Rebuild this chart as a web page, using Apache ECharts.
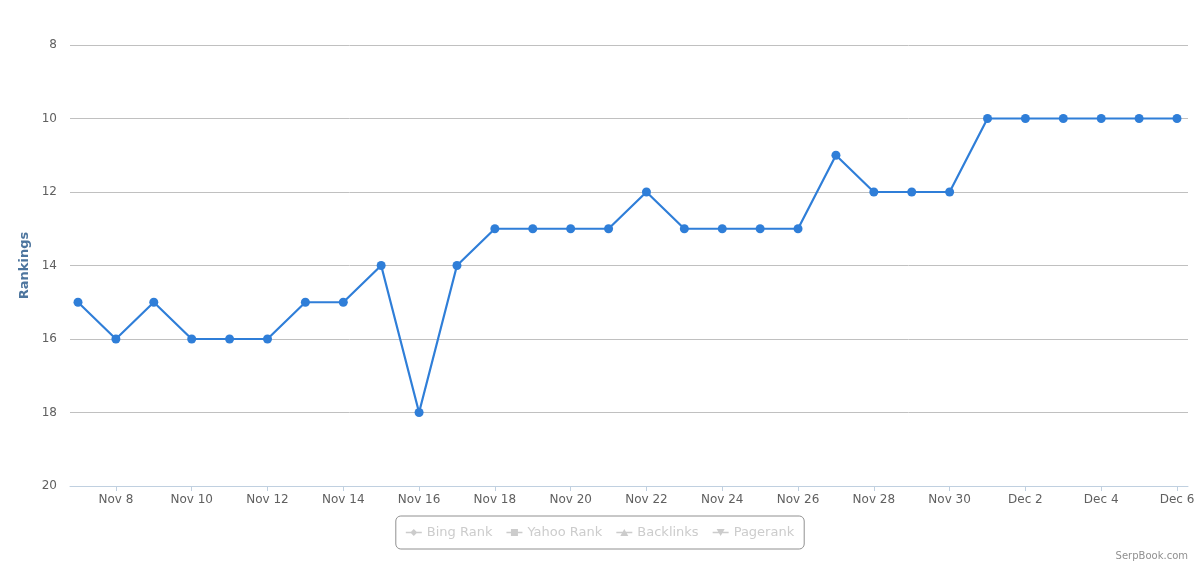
<!DOCTYPE html>
<html>
<head>
<meta charset="utf-8">
<script src="https://cdn.jsdelivr.net/npm/echarts@6/dist/echarts.min.js"></script>
<style>html,body{margin:0;padding:0;background:#fff}#c{width:1200px;height:566px}</style>
</head>
<body>
<div id="c"></div>
<script>
const categories = ["Nov 7","Nov 8","Nov 9","Nov 10","Nov 11","Nov 12","Nov 13","Nov 14","Nov 15","Nov 16","Nov 17","Nov 18","Nov 19","Nov 20","Nov 21","Nov 22","Nov 23","Nov 24","Nov 25","Nov 26","Nov 27","Nov 28","Nov 29","Nov 30","Dec 1","Dec 2","Dec 3","Dec 4","Dec 5","Dec 6"];
const googleRank = [15,16,15,16,16,16,15,15,14,18,14,13,13,13,13,12,13,13,13,13,11,12,12,12,10,10,10,10,10,10];
const legendNames = ["Bing Rank","Yahoo Rank","Backlinks","Pagerank"];
const yTicks = {min: 8, max: 20, interval: 2};

const FONT = "DejaVu Sans";
const icons = {
  "Bing Rank": "path://M0,3.2h16v1.6h-16z M8,0.5L11.5,4L8,7.5L4.5,4z",
  "Yahoo Rank": "path://M0,3.2h16v1.6h-16z M4.5,0.5h7v7h-7z",
  "Backlinks": "path://M0,3.2h16v1.6h-16z M8,0.5L12,7.5L4,7.5z",
  "Pagerank": "path://M0,3.2h16v1.6h-16z M4,0.5L12,0.5L8,7.5z"
};
const selected = {};
legendNames.forEach(n => selected[n] = false);

const chart = echarts.init(document.getElementById('c'));
chart.setOption({
  animation: false,
  textStyle: {fontFamily: FONT},
  grid: [
    {left: 70, right: 12, top: 45, bottom: 80},
    {left: 78, right: 23, top: 45, bottom: 80}
  ],
  xAxis: [
    {gridIndex: 0, type: 'value', min: 0, max: 1, show: true,
     axisLine: {show: true, onZero: false, lineStyle: {color: '#C0D0E0', width: 1}},
     axisTick: {show: false}, axisLabel: {show: false}, splitLine: {show: false}},
    {gridIndex: 1, type: 'category', data: categories, boundaryGap: false,
     axisLine: {show: false},
     axisTick: {show: true, length: 5, interval: (i) => i % 2 === 1, lineStyle: {color: '#C0D0E0'}},
     axisLabel: {interval: (i) => i % 2 === 1, color: '#606060', fontSize: 12, margin: 8, fontFamily: FONT},
     splitLine: {show: false}}
  ],
  yAxis: [
    {gridIndex: 0, type: 'value', inverse: true, min: yTicks.min, max: yTicks.max, interval: yTicks.interval,
     name: 'Rankings', nameLocation: 'middle', nameGap: 37, nameRotate: 90,
     nameTextStyle: {color: '#4d759e', fontWeight: 'bold', fontSize: 13, fontFamily: FONT},
     axisLine: {show: false}, axisTick: {show: false},
     axisLabel: {color: '#606060', fontSize: 12, margin: 13, fontFamily: FONT},
     splitLine: {show: true, lineStyle: {color: '#C0C0C0', width: 1}}},
    {gridIndex: 1, type: 'value', inverse: true, min: yTicks.min, max: yTicks.max, interval: yTicks.interval,
     show: false, splitLine: {show: false}}
  ],
  legend: {
    data: legendNames.map(n => ({name: n, icon: icons[n]})),
    selected: selected,
    left: 'center', top: 516,
    itemWidth: 16, itemHeight: 8, itemGap: 14,
    padding: [10, 10],
    borderColor: '#909090', borderWidth: 1, borderRadius: 5,
    inactiveColor: '#cccccc',
    textStyle: {fontSize: 13, fontFamily: FONT, color: '#274b6d'}
  },
  graphic: [{
    type: 'text', right: 12, bottom: 5,
    style: {text: 'SerpBook.com', fill: '#909090', font: '10px "DejaVu Sans"'}
  }],
  series: [
    {name: 'Google Rank', type: 'line', xAxisIndex: 1, yAxisIndex: 1, data: googleRank,
     color: '#2f7ed8', symbol: 'circle', symbolSize: 9, showAllSymbol: true,
     lineStyle: {width: 2.2, color: '#2f7ed8'}, itemStyle: {color: '#2f7ed8'}},
    {name: 'Bing Rank', type: 'line', xAxisIndex: 1, yAxisIndex: 1, data: [], color: '#0d233a'},
    {name: 'Yahoo Rank', type: 'line', xAxisIndex: 1, yAxisIndex: 1, data: [], color: '#8bbc21'},
    {name: 'Backlinks', type: 'line', xAxisIndex: 1, yAxisIndex: 1, data: [], color: '#910000'},
    {name: 'Pagerank', type: 'line', xAxisIndex: 1, yAxisIndex: 1, data: [], color: '#1aadce'}
  ]
});
</script>
</body>
</html>
